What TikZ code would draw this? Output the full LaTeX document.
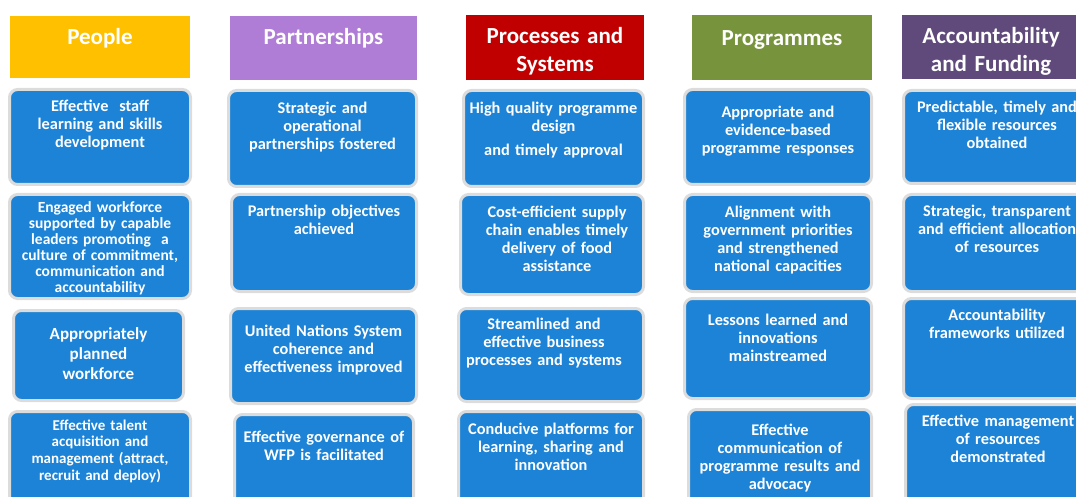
\documentclass[tikz,border=0pt]{standalone}
\usepackage{fontspec}
\setmainfont{Carlito}
\usetikzlibrary{positioning}

\definecolor{peoplecol}{HTML}{FFC000}
\definecolor{partnercol}{RGB}{176,125,214}
\definecolor{processcol}{HTML}{C00000}
\definecolor{programcol}{HTML}{77933C}
\definecolor{fundcol}{HTML}{604A7B}
\definecolor{goalblue}{RGB}{28,131,214}
\definecolor{goalrim}{RGB}{220,220,220}

\tikzset{
  head/.style={fill=#1,anchor=north west,inner sep=0,outer sep=0},
  headtext/.style={anchor=north,text=white,align=center,inner sep=0,text width=176,
    font=\bfseries\fontsize{23}{28}\selectfont,yshift=-12},
  goal/.style={draw=goalrim,line width=3,fill=goalblue,rounded corners=8,
    anchor=north west,inner sep=0,outer sep=0},
  goaltext/.style={anchor=north,text=white,align=center,inner sep=0,text width=186,
    font=\bfseries\fontsize{16.3}{18}\selectfont}
}

\begin{document}
\begin{tikzpicture}[x=1pt,y=1pt]
  \useasboundingbox (0,0) rectangle (1076,-497);
  \clip (0,0) rectangle (1076,-497);

  % column headers
  \node[head=peoplecol,minimum width=180,minimum height=62,label={[headtext]90:{People}}] (hpe) at (10,-16) {};
  \node[head=partnercol,minimum width=187,minimum height=64,label={[headtext]90:{Partnerships}}] (hpa) at (230,-16) {};
  \node[head=processcol,minimum width=178,minimum height=65,label={[headtext]90:{Processes and\\Systems}}] (hps) at (466,-15) {};
  \node[head=programcol,minimum width=180,minimum height=65,label={[headtext,yshift=-3]90:{Programmes}}] (hpg) at (692,-15) {};
  \node[head=fundcol,minimum width=178,minimum height=64,label={[headtext]90:{Accountability\\and Funding}}] (haf) at (902,-15) {};

  % People
  \node[goal,minimum width=181,minimum height=95,
    label={[goaltext,yshift=-10]90:{Effective\ \ staff\\learning and skills\\development}}] (pe1) at (9.5,-89.5) {};
  \node[goal,minimum width=181,minimum height=104,
    label={[goaltext,yshift=-7,font=\bfseries\fontsize{15.5}{16}\selectfont]90:{Engaged workforce\\supported by capable\\leaders promoting\ \ a\\culture of commitment,\\communication and\\accountability}}] (pe2) at (9.5,-194.5) {};
  \node[goal,minimum width=170,minimum height=90,
    label={[goaltext,yshift=-17,font=\bfseries\fontsize{17}{20}\selectfont]90:{Appropriately\\planned\\workforce}}] (pe3) at (13.5,-310.5) {};
  \node[goal,minimum width=181,minimum height=100,
    label={[goaltext,yshift=-8,font=\bfseries\fontsize{15}{16.7}\selectfont]90:{Effective talent\\acquisition and\\management (attract,\\recruit and deploy)}}] (pe4) at (9.5,-411.5) {};

  % Partnerships
  \node[goal,minimum width=188,minimum height=96,
    label={[goaltext,yshift=-11]90:{Strategic and\\operational\\partnerships fostered}}] (pa1) at (228.5,-90.5) {};
  \node[goal,minimum width=185,minimum height=97,
    label={[goaltext,yshift=-10]90:{Partnership objectives\\achieved}}] (pa2) at (231.5,-194.5) {};
  \node[goal,minimum width=186,minimum height=95,
    label={[goaltext,yshift=-16]90:{United Nations System\\coherence and\\effectiveness improved}}] (pa3) at (230.5,-308.5) {};
  \node[goal,minimum width=179,minimum height=100,
    label={[goaltext,yshift=-16]90:{Effective governance of\\WFP is facilitated}}] (pa4) at (234.5,-414.5) {};

  % Processes and Systems
  \node[goal,minimum width=180,minimum height=96,
    label={[goaltext,yshift=-11]90:{High quality programme\\design\\[6pt]and timely approval}}] (pr1) at (463.5,-90.5) {};
  \node[goal,minimum width=183,minimum height=100,
    label={[goaltext,yshift=-11,xshift=5]90:{Cost-efficient supply\\chain enables timely\\delivery of food\\assistance}}] (pr2) at (460.5,-194.5) {};
  \node[goal,minimum width=185,minimum height=93,
    label={[goaltext,yshift=-9,xshift=-7]90:{Streamlined and\\effective business\\processes and systems}}] (pr3) at (458.5,-308.5) {};
  \node[goal,minimum width=185,minimum height=100,
    label={[goaltext,yshift=-11]90:{Conducive platforms for\\learning, sharing and\\innovation}}] (pr4) at (458.5,-411.5) {};

  % Programmes
  \node[goal,minimum width=187,minimum height=95,
    label={[goaltext,yshift=-16]90:{Appropriate and\\evidence-based\\programme responses}}] (pg1) at (684.5,-89.5) {};
  \node[goal,minimum width=187,minimum height=97,
    label={[goaltext,yshift=-11]90:{Alignment with\\government priorities\\and strengthened\\national capacities}}] (pg2) at (684.5,-194.5) {};
  \node[goal,minimum width=187,minimum height=100,
    label={[goaltext,yshift=-15]90:{Lessons learned and\\innovations\\mainstreamed}}] (pg3) at (684.5,-298.5) {};
  \node[goal,minimum width=183,minimum height=100,
    label={[goaltext,yshift=-14]90:{Effective\\communication of\\programme results and\\advocacy}}] (pg4) at (688.5,-409.5) {};

  % Accountability and Funding
  \node[goal,minimum width=187,minimum height=93,
    label={[goaltext,yshift=-10]90:{Predictable, timely and\\flexible resources\\obtained}}] (af1) at (903.5,-90.5) {};
  \node[goal,minimum width=187,minimum height=97,
    label={[goaltext,yshift=-10]90:{Strategic, transparent\\and efficient allocation\\of resources}}] (af2) at (903.5,-194.5) {};
  \node[goal,minimum width=187,minimum height=100,
    label={[goaltext,yshift=-10]90:{Accountability\\frameworks utilized}}] (af3) at (903.5,-298.5) {};
  \node[goal,minimum width=185,minimum height=104,
    label={[goaltext,yshift=-10]90:{Effective management\\of resources\\demonstrated}}] (af4) at (905.5,-404.5) {};
\end{tikzpicture}
\end{document}
